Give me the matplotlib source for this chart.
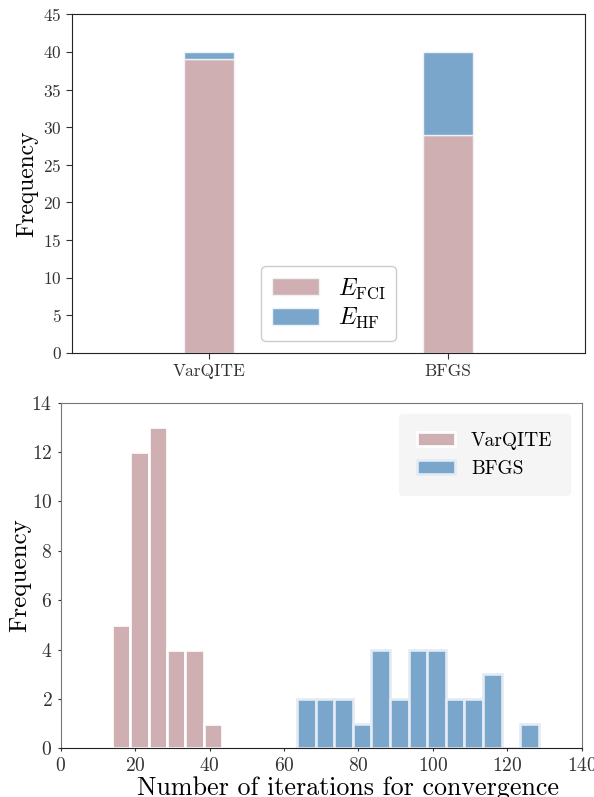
import numpy as np
import matplotlib
matplotlib.use("Agg")
import matplotlib.pyplot as plt

plt.rcParams["font.family"] = "serif"
plt.rcParams["font.serif"] = ["cmr10"]
plt.rcParams["mathtext.fontset"] = "cm"
plt.rcParams["axes.unicode_minus"] = False
plt.rcParams["axes.formatter.use_mathtext"] = True

PINK = "#cfafb1"
BLUE = "#7ba6cb"

# top: stacked bars of final energies reached
methods = ["VarQITE", "BFGS"]
n_fci = [39, 29]
n_hf = [1, 11]

# bottom: iteration histograms (counts per bin, bin edges)
varqite_counts = [5, 12, 13, 4, 4, 1]
varqite_edges = [13.7, 18.65, 23.6, 28.55, 33.5, 38.45, 43.4]
bfgs_counts = [2, 2, 2, 1, 4, 2, 4, 4, 2, 2, 3, 0, 1]
bfgs_edges = [63.5, 68.5, 73.5, 78.5, 83.5, 88.5, 93.5, 98.5,
              103.5, 108.5, 113.5, 118.5, 123.5, 128.5]

fig = plt.figure(figsize=(5.94, 7.97), dpi=100)
ax1 = fig.add_axes([0.1212, 0.5571, 0.8636, 0.425])
ax2 = fig.add_axes([0.1022, 0.0611, 0.8771, 0.4336])

# --- top panel
x = np.arange(len(methods))
ax1.bar(x, n_fci, width=0.21, color=PINK, edgecolor="#eef2f7", linewidth=1.0,
        label=r"$E_{\rm FCI}$")
ax1.bar(x, n_hf, width=0.21, bottom=n_fci, color=BLUE, edgecolor="#eef2f7",
        linewidth=1.0, label=r"$E_{\rm HF}$")
ax1.set_xlim(-0.573, 1.573)
ax1.set_ylim(0, 45)
ax1.set_yticks(range(0, 46, 5))
ax1.set_xticks(x)
ax1.set_xticklabels(methods)
ax1.set_ylabel("Frequency", fontsize=17)
ax1.yaxis.set_label_coords(-0.066, 0.5)
ax1.tick_params(labelsize=12.5, colors="#333333", length=4)
for s in ax1.spines.values():
    s.set_color("#222222")
ax1.legend(loc="lower center", bbox_to_anchor=(0.5, 0.0), fontsize=17,
           frameon=True, facecolor="white", edgecolor="#cccccc",
           handlelength=2.0, borderpad=0.45, labelspacing=0.2, framealpha=1)

# --- bottom panel
ax2.hist(varqite_edges[:-1], bins=varqite_edges, weights=varqite_counts,
         color=PINK, edgecolor="white", linewidth=1.9, label="VarQITE")
ax2.hist(bfgs_edges[:-1], bins=bfgs_edges, weights=bfgs_counts,
         color=BLUE, edgecolor="#e3ebf4", linewidth=1.9, label="BFGS")
ax2.set_xlim(0, 140)
ax2.set_ylim(0, 14)
ax2.set_yticks(range(0, 15, 2))
ax2.set_xticks(range(0, 141, 20))
ax2.set_xlabel("Number of iterations for convergence", fontsize=18.7)
ax2.xaxis.set_label_coords(0.551, -0.08)
ax2.set_ylabel("Frequency", fontsize=18)
ax2.yaxis.set_label_coords(-0.056, 0.5)
ax2.tick_params(labelsize=14, colors="#333333", length=2.5)
for name, s in ax2.spines.items():
    s.set_color("#222222" if name == "bottom" else "#777777")
ax2.legend(loc="upper right", fontsize=14, frameon=True, facecolor="#f5f5f5",
           edgecolor="#f5f5f5", framealpha=1, handlelength=2.0,
           borderpad=0.9, borderaxespad=0.6)

fig.savefig("out.png", dpi=100)
